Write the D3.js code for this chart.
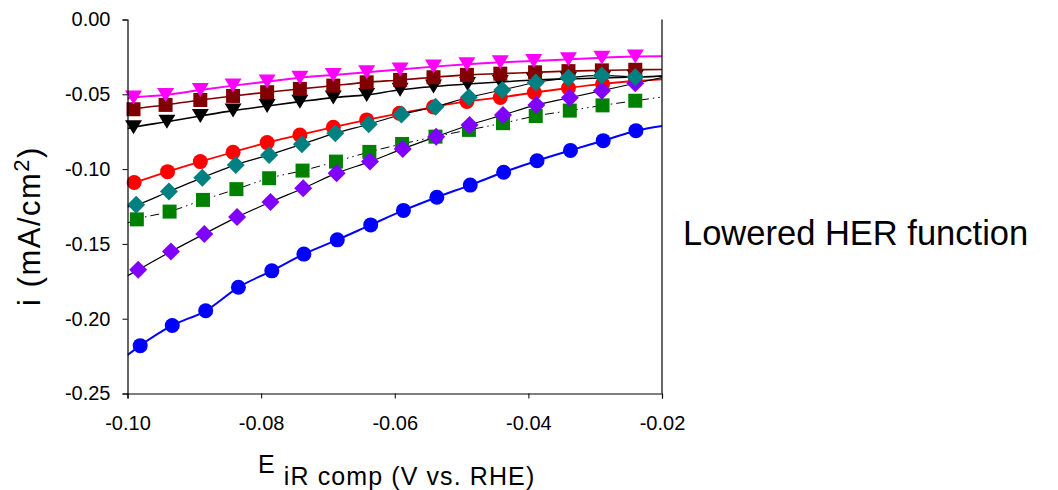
<!DOCTYPE html>
<html>
<head>
<meta charset="utf-8">
<script src="https://cdn.jsdelivr.net/npm/d3@7"></script>
<style>
  html, body { margin: 0; padding: 0; background: #fff; }
  svg { display: block; }
  text { font-family: "Liberation Sans", Arial, sans-serif; fill: #000; }
</style>
</head>
<body>
<svg id="chart" width="1058" height="490"></svg>
<script>
// ---------------- data ----------------
const xTicks = [-0.10, -0.08, -0.06, -0.04, -0.02];
const yTicks = [0.00, -0.05, -0.10, -0.15, -0.20, -0.25];

const magentaX = [-0.0991, -0.0943, -0.0891, -0.0842, -0.0791, -0.0742, -0.0692, -0.0642, -0.0592, -0.0542, -0.0492, -0.0442, -0.0392, -0.0340, -0.0290, -0.0240];
const magentaY = [-0.0522, -0.0504, -0.0471, -0.0442, -0.0415, -0.0389, -0.0371, -0.0353, -0.0334, -0.0315, -0.0299, -0.0286, -0.0277, -0.0266, -0.0255, -0.0248];
const magentaEnds = [-0.0528, -0.0246];

const brownX = [-0.0991, -0.0943, -0.0891, -0.0842, -0.0791, -0.0742, -0.0692, -0.0642, -0.0592, -0.0542, -0.0492, -0.0442, -0.0390, -0.0340, -0.0290, -0.0240];
const brownY = [-0.0600, -0.0571, -0.0538, -0.0511, -0.0486, -0.0464, -0.0442, -0.0420, -0.0404, -0.0386, -0.0370, -0.0362, -0.0353, -0.0345, -0.0340, -0.0336];
const brownEnds = [-0.0608, -0.0334];

const blackX = [-0.0991, -0.0941, -0.0891, -0.0842, -0.0791, -0.0742, -0.0692, -0.0642, -0.0592, -0.0542, -0.0491, -0.0442, -0.0391, -0.0340, -0.0289, -0.0240];
const blackY = [-0.0720, -0.0683, -0.0645, -0.0609, -0.0578, -0.0549, -0.0522, -0.0504, -0.0470, -0.0448, -0.0431, -0.0418, -0.0404, -0.0397, -0.0391, -0.0384];
const blackEnds = [-0.0728, -0.0378];

const redX = [-0.0990, -0.0940, -0.0891, -0.0842, -0.0791, -0.0742, -0.0692, -0.0642, -0.0593, -0.0542, -0.0492, -0.0442, -0.0391, -0.0340, -0.0289, -0.0240];
const redY = [-0.1090, -0.1017, -0.0950, -0.0887, -0.0823, -0.0772, -0.0720, -0.0671, -0.0627, -0.0585, -0.0548, -0.0521, -0.0488, -0.0458, -0.0431, -0.0411];
const redEnds = [-0.1104, -0.0400];

const tealX = [-0.0987, -0.0938, -0.0888, -0.0838, -0.0788, -0.0739, -0.0689, -0.0639, -0.0590, -0.0539, -0.0489, -0.0439, -0.0389, -0.0340, -0.0290, -0.0240];
const tealY = [-0.1239, -0.1150, -0.1057, -0.0972, -0.0905, -0.0834, -0.0760, -0.0700, -0.0635, -0.0583, -0.0520, -0.0471, -0.0421, -0.0390, -0.0374, -0.0384];
const tealEnds = [-0.1253, -0.0378];

const greenX = [-0.0986, -0.0937, -0.0887, -0.0837, -0.0788, -0.0738, -0.0688, -0.0638, -0.0589, -0.0539, -0.0489, -0.0438, -0.0389, -0.0338, -0.0289, -0.0240];
const greenY = [-0.1336, -0.1284, -0.1206, -0.1134, -0.1061, -0.1010, -0.0950, -0.0885, -0.0832, -0.0783, -0.0738, -0.0693, -0.0645, -0.0609, -0.0574, -0.0543];
const greenEnds = [-0.1360, -0.0518];

const purpleX = [-0.0984, -0.0935, -0.0885, -0.0836, -0.0786, -0.0737, -0.0687, -0.0637, -0.0588, -0.0538, -0.0488, -0.0438, -0.0388, -0.0338, -0.0290, -0.0240];
const purpleY = [-0.1673, -0.1551, -0.1433, -0.1321, -0.1220, -0.1128, -0.1027, -0.0950, -0.0865, -0.0783, -0.0705, -0.0638, -0.0571, -0.0523, -0.0476, -0.0426];
const purpleEnds = [-0.1713, -0.0388];

const blueX = [-0.0981, -0.0933, -0.0883, -0.0834, -0.0784, -0.0736, -0.0686, -0.0636, -0.0587, -0.0537, -0.0487, -0.0437, -0.0387, -0.0337, -0.0288, -0.0239];
const blueY = [-0.2180, -0.2045, -0.1947, -0.1790, -0.1680, -0.1568, -0.1473, -0.1373, -0.1276, -0.1188, -0.1107, -0.1021, -0.0944, -0.0875, -0.0810, -0.0743];
const blueEnds = [-0.2243, -0.0711];

const annotation = "Lowered HER function";

// ---------------- series styling (drawing order: lines first, then markers) ----------------
const series = [
  { x: blueX,    y: blueY,    ends: blueEnds,    fill: "#0000FF", line: "#0000FF", lw: 2,   dash: null, shape: "circle" },
  { x: blackX,   y: blackY,   ends: blackEnds,   fill: "#000000", line: "#000000", lw: 1.6, dash: null, shape: "tri" },
  { x: brownX,   y: brownY,   ends: brownEnds,   fill: "#800000", line: "#800000", lw: 1.6, dash: null, shape: "square" },
  { x: magentaX, y: magentaY, ends: magentaEnds, fill: "#FF00FF", line: "#FF00FF", lw: 2,   dash: null, shape: "tri" },
  { x: redX,     y: redY,     ends: redEnds,     fill: "#FF0000", line: "#FF0000", lw: 1.8, dash: null, shape: "circle" },
  { x: greenX,   y: greenY,   ends: greenEnds,   fill: "#008000", line: "#000000", lw: 1,   dash: "9,4,1.5,4,1.5,4", shape: "square" },
  { x: purpleX,  y: purpleY,  ends: purpleEnds,  fill: "#8000FF", line: "#000000", lw: 1.2, dash: null, shape: "diamond" },
  { x: tealX,    y: tealY,    ends: tealEnds,    fill: "#008080", line: "#000000", lw: 1.2, dash: null, shape: "diamond" }
];

// ---------------- layout ----------------
const svg = d3.select("#chart");
const mLeft = 127.5, mRight = 662, mTop = 19.5, mBottom = 393.5;

const x = d3.scaleLinear().domain([-0.10, -0.02]).range([mLeft, mRight]);
const y = d3.scaleLinear().domain([-0.25, 0.00]).range([mBottom, mTop]);

const plot = svg.append("g");
svg.append("clipPath").attr("id", "clip")
  .append("rect").attr("x", mLeft).attr("y", mTop - 10).attr("width", mRight - mLeft).attr("height", mBottom - mTop + 10);

// lines
const lineGen = d3.line().x(d => x(d[0])).y(d => y(d[1])).curve(d3.curveMonotoneX);
series.forEach(s => {
  const pts = [[x.domain()[0], s.ends[0]]].concat(s.x.map((v, i) => [v, s.y[i]]), [[x.domain()[1], s.ends[1]]]);
  plot.append("path")
    .attr("d", lineGen(pts))
    .attr("fill", "none")
    .attr("stroke", s.line)
    .attr("stroke-width", s.lw)
    .attr("stroke-dasharray", s.dash)
    .attr("clip-path", "url(#clip)");
});

// markers
function shapePath(shape) {
  if (shape === "tri") return "M-8.5,-7 L8.5,-7 L0,7 Z";
  if (shape === "square") return "M-7,-7 L7,-7 L7,7 L-7,7 Z";
  if (shape === "diamond") return "M0,-9 L9,0 L0,9 L-9,0 Z";
  return null;
}
series.forEach(s => {
  const g = plot.append("g");
  const data = s.x.map((v, i) => [v, s.y[i]]);
  if (s.shape === "circle") {
    g.selectAll("circle").data(data).join("circle")
      .attr("cx", d => x(d[0])).attr("cy", d => y(d[1])).attr("r", 7.5)
      .attr("fill", s.fill);
  } else {
    g.selectAll("path").data(data).join("path")
      .attr("transform", d => `translate(${x(d[0])},${y(d[1])})`)
      .attr("d", shapePath(s.shape))
      .attr("fill", s.fill);
  }
});

// axes
const fmt = d => d3.format(".2f")(d).replace("\u2212", "-");
const xAxis = d3.axisBottom(x).tickValues(xTicks).tickFormat(fmt).tickSizeOuter(0).tickSize(5).tickPadding(17);
const yAxis = d3.axisLeft(y).tickValues(yTicks).tickFormat(fmt).tickSizeOuter(0).tickSize(5).tickPadding(12);

const gx = svg.append("g").attr("transform", `translate(0,${mBottom})`).call(xAxis);
const gy = svg.append("g").attr("transform", `translate(${mLeft},0)`).call(yAxis);
[gx, gy].forEach(g => {
  g.select(".domain").attr("stroke", "#000").attr("stroke-width", 1.2);
  g.selectAll(".tick line").attr("stroke", "#000").attr("stroke-width", 1);
  g.selectAll(".tick text").attr("font-size", 20).attr("font-family", "Liberation Sans, Arial, sans-serif").attr("fill", "#000");
});

// right border
svg.append("line").attr("x1", mRight).attr("x2", mRight).attr("y1", mTop).attr("y2", mBottom)
  .attr("stroke", "#000").attr("stroke-width", 1.2);

// axis titles
const xt = svg.append("text").attr("x", 258).attr("y", 473).attr("font-size", 25).attr("letter-spacing", 1.1);
xt.append("tspan").text("E");
xt.append("tspan").attr("dy", 12).text(" iR comp (V vs. RHE)");

const yt = svg.append("text")
  .attr("transform", `translate(40,${226}) rotate(-90)`)
  .attr("text-anchor", "middle").attr("font-size", 31).attr("letter-spacing", 1.5);
yt.append("tspan").text("i (mA/cm");
yt.append("tspan").attr("dy", -11).attr("font-size", 22).text("2");
yt.append("tspan").attr("dy", 11).text(")");

// annotation
svg.append("text").attr("x", 683).attr("y", 245).attr("font-size", 34.5).text(annotation);
</script>
</body>
</html>
